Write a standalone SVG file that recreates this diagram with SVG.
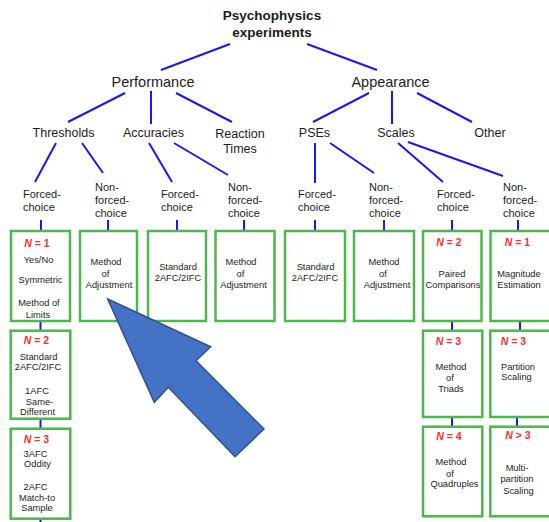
<svg xmlns="http://www.w3.org/2000/svg" width="549" height="522" viewBox="0 0 549 522">
<style>
text{font-family:"Liberation Sans",Arial,sans-serif;fill:#1c1c1c}
.t{font-size:13.5px;font-weight:bold;text-anchor:middle}
.l1{font-size:14.5px;text-anchor:middle}
.l2{font-size:12.5px;text-anchor:middle}
.l3{font-size:11px}
.b{font-size:9.3px;text-anchor:middle}
.n{font-size:10.5px;font-weight:bold;text-anchor:middle;fill:#ff2d2d}
.n tspan.i{font-style:italic}
.box{fill:#fff;stroke:#4cb84c;stroke-width:2.5}
.c line{stroke:#1818f0;stroke-width:2}
</style>
<rect width="549" height="522" fill="#fff"/>
<g id="connectors" class="c">
<line x1="230" y1="44" x2="161" y2="70"/>
<line x1="307" y1="44" x2="377" y2="70"/>
<line x1="125" y1="93" x2="68" y2="122"/>
<line x1="151" y1="91" x2="151" y2="124"/>
<line x1="176" y1="93" x2="232" y2="122"/>
<line x1="369" y1="93" x2="313" y2="122"/>
<line x1="392" y1="91" x2="392" y2="124"/>
<line x1="417" y1="93" x2="472" y2="122"/>
<line x1="56" y1="143" x2="35" y2="182"/>
<line x1="82" y1="143" x2="103" y2="173"/>
<line x1="149" y1="143" x2="172" y2="182"/>
<line x1="174" y1="143" x2="228" y2="175"/>
<line x1="315" y1="143" x2="315" y2="183"/>
<line x1="330" y1="143" x2="374" y2="173"/>
<line x1="398" y1="143" x2="443" y2="182"/>
<line x1="408" y1="142" x2="503" y2="176"/>
<line x1="41" y1="220" x2="41" y2="231"/>
<line x1="108" y1="220" x2="108" y2="231"/>
<line x1="177" y1="220" x2="177" y2="231"/>
<line x1="244" y1="220" x2="244" y2="231"/>
<line x1="315" y1="220" x2="315" y2="231"/>
<line x1="384" y1="220" x2="384" y2="231"/>
<line x1="452" y1="220" x2="452" y2="231"/>
<line x1="518" y1="220" x2="518" y2="231"/>
<line x1="40.5" y1="321" x2="40.5" y2="331"/>
<line x1="40.5" y1="419" x2="40.5" y2="429"/>
<line x1="40.5" y1="519" x2="40.5" y2="522"/>
<line x1="452" y1="321" x2="452" y2="331"/>
<line x1="452" y1="417" x2="452" y2="427"/>
<line x1="520" y1="321" x2="520" y2="331"/>
<line x1="517" y1="417" x2="517" y2="427"/>
</g>
<g id="root"><text class="t" x="272" y="20">Psychophysics</text><text class="t" x="272" y="37">experiments</text></g>
<g id="performance"><text class="l1" x="153" y="87">Performance</text></g>
<g id="appearance"><text class="l1" x="390.5" y="87">Appearance</text></g>
<g id="thresholds"><text class="l2" x="63.5" y="137">Thresholds</text></g>
<g id="accuracies"><text class="l2" x="153.5" y="137">Accuracies</text></g>
<g id="reaction-times"><text class="l2" x="240" y="138">Reaction</text><text class="l2" x="240" y="153">Times</text></g>
<g id="pses"><text class="l2" x="314.5" y="137">PSEs</text></g>
<g id="scales"><text class="l2" x="396" y="137">Scales</text></g>
<g id="other"><text class="l2" x="490" y="137">Other</text></g>
<g id="fc1"><text class="l3" x="23" y="198">Forced-</text><text class="l3" x="23" y="211">choice</text></g>
<g id="nfc1"><text class="l3" x="95" y="190.5">Non-</text><text class="l3" x="95" y="204">forced-</text><text class="l3" x="95" y="217">choice</text></g>
<g id="fc2"><text class="l3" x="161" y="198">Forced-</text><text class="l3" x="161" y="211">choice</text></g>
<g id="nfc2"><text class="l3" x="228" y="190.5">Non-</text><text class="l3" x="228" y="204">forced-</text><text class="l3" x="228" y="217">choice</text></g>
<g id="fc3"><text class="l3" x="298" y="198">Forced-</text><text class="l3" x="298" y="211">choice</text></g>
<g id="nfc3"><text class="l3" x="369" y="190.5">Non-</text><text class="l3" x="369" y="204">forced-</text><text class="l3" x="369" y="217">choice</text></g>
<g id="fc4"><text class="l3" x="437" y="198">Forced-</text><text class="l3" x="437" y="211">choice</text></g>
<g id="nfc4"><text class="l3" x="503" y="190.5">Non-</text><text class="l3" x="503" y="204">forced-</text><text class="l3" x="503" y="217">choice</text></g>
<g id="box-yesno">
<rect class="box" x="11" y="231" width="59" height="90"/>
<text class="n" x="37" y="246.5"><tspan class="i">N</tspan> = 1</text>
<text class="b" x="38.5" y="262.5">Yes/No</text>
<text class="b" x="40.5" y="283">Symmetric</text>
<text class="b" x="39" y="306">Method of</text>
<text class="b" x="38" y="317.5">Limits</text>
</g>
<g id="box-moa1">
<rect class="box" x="80" y="231" width="57" height="90"/>
<text class="b" x="106" y="265">Method</text>
<text class="b" x="105.5" y="276.5">of</text>
<text class="b" x="109" y="288">Adjustment</text>
</g>
<g id="box-2afc1">
<rect class="box" x="148" y="231" width="58" height="90"/>
<text class="b" x="178" y="270">Standard</text>
<text class="b" x="178" y="281">2AFC/2IFC</text>
</g>
<g id="box-moa2">
<rect class="box" x="215.5" y="231" width="59" height="90"/>
<text class="b" x="241" y="265">Method</text>
<text class="b" x="240.5" y="276.5">of</text>
<text class="b" x="243.5" y="288">Adjustment</text>
</g>
<g id="box-2afc2">
<rect class="box" x="285" y="231" width="60" height="90"/>
<text class="b" x="315.5" y="270">Standard</text>
<text class="b" x="315" y="281">2AFC/2IFC</text>
</g>
<g id="box-moa3">
<rect class="box" x="354" y="231" width="60" height="90"/>
<text class="b" x="384" y="265">Method</text>
<text class="b" x="383" y="276.5">of</text>
<text class="b" x="387" y="288">Adjustment</text>
</g>
<g id="box-paired">
<rect class="box" x="423" y="231" width="58.5" height="90"/>
<text class="n" x="449" y="246"><tspan class="i">N</tspan> = 2</text>
<text class="b" x="452" y="277">Paired</text>
<text class="b" x="453" y="288">Comparisons</text>
</g>
<g id="box-magnitude">
<rect class="box" x="490.5" y="231" width="62" height="90"/>
<text class="n" x="517.5" y="246"><tspan class="i">N</tspan> = 1</text>
<text class="b" x="519" y="277">Magnitude</text>
<text class="b" x="519" y="288">Estimation</text>
</g>
<g id="box-n2">
<rect class="box" x="10.7" y="330.7" width="59.6" height="88"/>
<text class="n" x="36.5" y="344"><tspan class="i">N</tspan> = 2</text>
<text class="b" x="38.5" y="359.5">Standard</text>
<text class="b" x="38" y="370">2AFC/2IFC</text>
<text class="b" x="37" y="393.5">1AFC</text>
<text class="b" x="39.5" y="404.5">Same-</text>
<text class="b" x="37.5" y="415">Different</text>
</g>
<g id="box-n3">
<rect class="box" x="10.7" y="428.7" width="59.6" height="90"/>
<text class="n" x="36.5" y="442.5"><tspan class="i">N</tspan> = 3</text>
<text class="b" x="35.5" y="456.5">3AFC</text>
<text class="b" x="37.5" y="466.5">Oddity</text>
<text class="b" x="35.5" y="490">2AFC</text>
<text class="b" x="37" y="500.5">Match-to</text>
<text class="b" x="37" y="510.5">Sample</text>
</g>
<g id="box-triads">
<rect class="box" x="423" y="330.7" width="59.3" height="86.3"/>
<text class="n" x="448.5" y="345"><tspan class="i">N</tspan> = 3</text>
<text class="b" x="451" y="370">Method</text>
<text class="b" x="450" y="381">of</text>
<text class="b" x="451" y="391.5">Triads</text>
</g>
<g id="box-quadruples">
<rect class="box" x="423" y="426.7" width="59.3" height="89.6"/>
<text class="n" x="449" y="440"><tspan class="i">N</tspan> = 4</text>
<text class="b" x="451" y="465">Method</text>
<text class="b" x="450" y="476.5">of</text>
<text class="b" x="454.5" y="487">Quadruples</text>
</g>
<g id="box-partition">
<rect class="box" x="490.3" y="330.7" width="62" height="86.3"/>
<text class="n" x="513.5" y="345"><tspan class="i">N</tspan> = 3</text>
<text class="b" x="518" y="370">Partition</text>
<text class="b" x="516.5" y="380">Scaling</text>
</g>
<g id="box-multipartition">
<rect class="box" x="490.3" y="426.7" width="62" height="89.6"/>
<text class="n" x="518" y="439"><tspan class="i">N</tspan> &gt; 3</text>
<text class="b" x="517" y="470.5">Multi-</text>
<text class="b" x="517" y="481.5">partition</text>
<text class="b" x="518.5" y="493.5">Scaling</text>
</g>
<g id="pointer-arrow">
<polygon points="107.7,299 210.7,346.7 196,360.7 264,429 235,456.7 168.3,387.3 154.3,402.3" fill="#4472c4" stroke="#2f528f" stroke-width="1.5" stroke-linejoin="miter"/>
</g>
</svg>
